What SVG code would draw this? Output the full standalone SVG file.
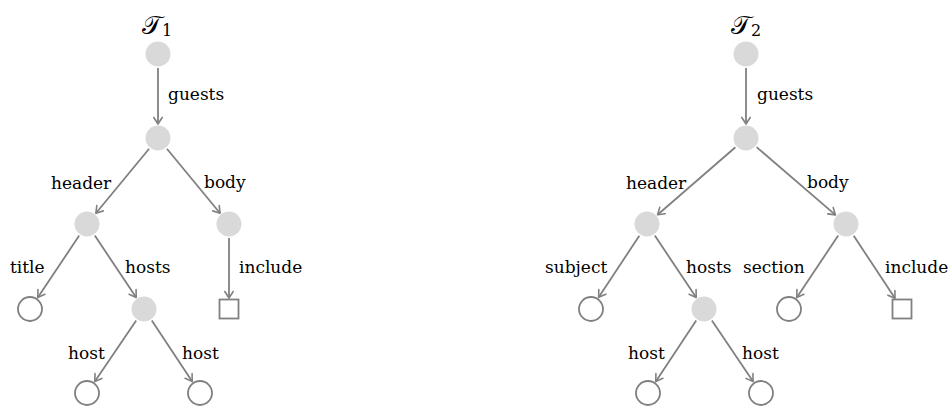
<svg xmlns="http://www.w3.org/2000/svg" width="952" height="408" viewBox="0 0 952 408">
  <defs>
    <marker id="arrow" markerUnits="userSpaceOnUse" markerWidth="16" markerHeight="16" refX="0" refY="0" viewBox="-8 -8 16 16" orient="auto" overflow="visible">
      <path d="M-6.5,-4.2 L0,0 L-6.5,4.2" fill="none" stroke="#808080" stroke-width="1.6" stroke-linecap="round" stroke-linejoin="round"/>
    </marker>
  </defs>
  <style>
    .inner { fill: #d9d9d9; stroke: none; }
    .leaf { fill: #ffffff; stroke: #808080; stroke-width: 1.8; }
    .edge { stroke: #808080; stroke-width: 1.8; fill: none; marker-end: url(#arrow); }
    .lbl { font-family: "DejaVu Serif", "Liberation Serif", serif; font-size: 17px; fill: #000000; }
    .title { font-family: "DejaVu Serif", "Noto Sans", "DejaVu Sans", serif; font-size: 26px; fill: #000000; }
    .sub { font-family: "DejaVu Serif", serif; font-size: 16px; fill: #000000; }
  </style>

  <!-- connectors -->
  <g id="connectors">
    <!-- left tree -->
    <line class="edge" x1="158" y1="68" x2="158" y2="124"/>
    <line class="edge" x1="149.1" y1="148.8" x2="95.9" y2="213.2"/>
    <line class="edge" x1="166.9" y1="148.8" x2="220.1" y2="213.2"/>
    <line class="edge" x1="79.2" y1="235.6" x2="37.8" y2="297.4"/>
    <line class="edge" x1="94.8" y1="235.6" x2="136.2" y2="297.4"/>
    <line class="edge" x1="229" y1="238" x2="229" y2="298"/>
    <line class="edge" x1="136.2" y1="320.6" x2="94.8" y2="381.4"/>
    <line class="edge" x1="151.8" y1="320.6" x2="192.2" y2="381.4"/>
    <!-- right tree -->
    <line class="edge" x1="746" y1="68" x2="746" y2="124"/>
    <line class="edge" x1="735.4" y1="147.2" x2="657.6" y2="214.8"/>
    <line class="edge" x1="756.6" y1="147.1" x2="835.4" y2="214.9"/>
    <line class="edge" x1="639.3" y1="235.7" x2="598.7" y2="297.3"/>
    <line class="edge" x1="654.8" y1="235.6" x2="696.2" y2="297.4"/>
    <line class="edge" x1="838.2" y1="235.6" x2="796.8" y2="297.4"/>
    <line class="edge" x1="853.7" y1="235.7" x2="895" y2="298.3"/>
    <line class="edge" x1="696.2" y1="320.6" x2="655.8" y2="381.4"/>
    <line class="edge" x1="711.9" y1="320.6" x2="753.1" y2="381.4"/>
  </g>

  <!-- edge labels -->
  <g id="edge-labels" class="lbl">
    <text x="168" y="100">guests</text>
    <text x="51" y="189">header</text>
    <text x="204" y="188">body</text>
    <text x="10" y="273">title</text>
    <text x="125" y="273">hosts</text>
    <text x="239" y="273">include</text>
    <text x="68" y="359">host</text>
    <text x="182" y="359">host</text>

    <text x="757" y="100">guests</text>
    <text x="626" y="189">header</text>
    <text x="807" y="188">body</text>
    <text x="545" y="273">subject</text>
    <text x="686" y="273">hosts</text>
    <text x="743" y="273">section</text>
    <text x="885" y="273">include</text>
    <text x="628" y="359">host</text>
    <text x="742" y="359">host</text>
  </g>

  <!-- left tree nodes -->
  <g id="t1-title">
    <text class="title" x="142" y="34">𝒯<tspan class="sub" dy="2">1</tspan></text>
  </g>
  <g id="t1-root"><circle class="inner" cx="158" cy="54" r="12.5"/></g>
  <g id="t1-guests"><circle class="inner" cx="158" cy="138" r="12.5"/></g>
  <g id="t1-header"><circle class="inner" cx="87" cy="224" r="12.5"/></g>
  <g id="t1-body"><circle class="inner" cx="229" cy="224" r="12.5"/></g>
  <g id="t1-title-leaf"><circle class="leaf" cx="30" cy="309" r="12"/></g>
  <g id="t1-hosts"><circle class="inner" cx="144" cy="309" r="12.5"/></g>
  <g id="t1-include"><rect class="leaf" x="219.5" y="299.5" width="19" height="19"/></g>
  <g id="t1-host-a"><circle class="leaf" cx="87" cy="393" r="12"/></g>
  <g id="t1-host-b"><circle class="leaf" cx="200" cy="393" r="12"/></g>

  <!-- right tree nodes -->
  <g id="t2-title">
    <text class="title" x="731" y="34">𝒯<tspan class="sub" dy="2">2</tspan></text>
  </g>
  <g id="t2-root"><circle class="inner" cx="746" cy="54" r="12.5"/></g>
  <g id="t2-guests"><circle class="inner" cx="746" cy="138" r="12.5"/></g>
  <g id="t2-header"><circle class="inner" cx="647" cy="224" r="12.5"/></g>
  <g id="t2-body"><circle class="inner" cx="846" cy="224" r="12.5"/></g>
  <g id="t2-subject"><circle class="leaf" cx="591" cy="309" r="12"/></g>
  <g id="t2-hosts"><circle class="inner" cx="704" cy="309" r="12.5"/></g>
  <g id="t2-section"><circle class="leaf" cx="789" cy="309" r="12"/></g>
  <g id="t2-include"><rect class="leaf" x="892.5" y="299.5" width="19" height="19"/></g>
  <g id="t2-host-a"><circle class="leaf" cx="648" cy="393" r="12"/></g>
  <g id="t2-host-b"><circle class="leaf" cx="761" cy="393" r="12"/></g>
</svg>
